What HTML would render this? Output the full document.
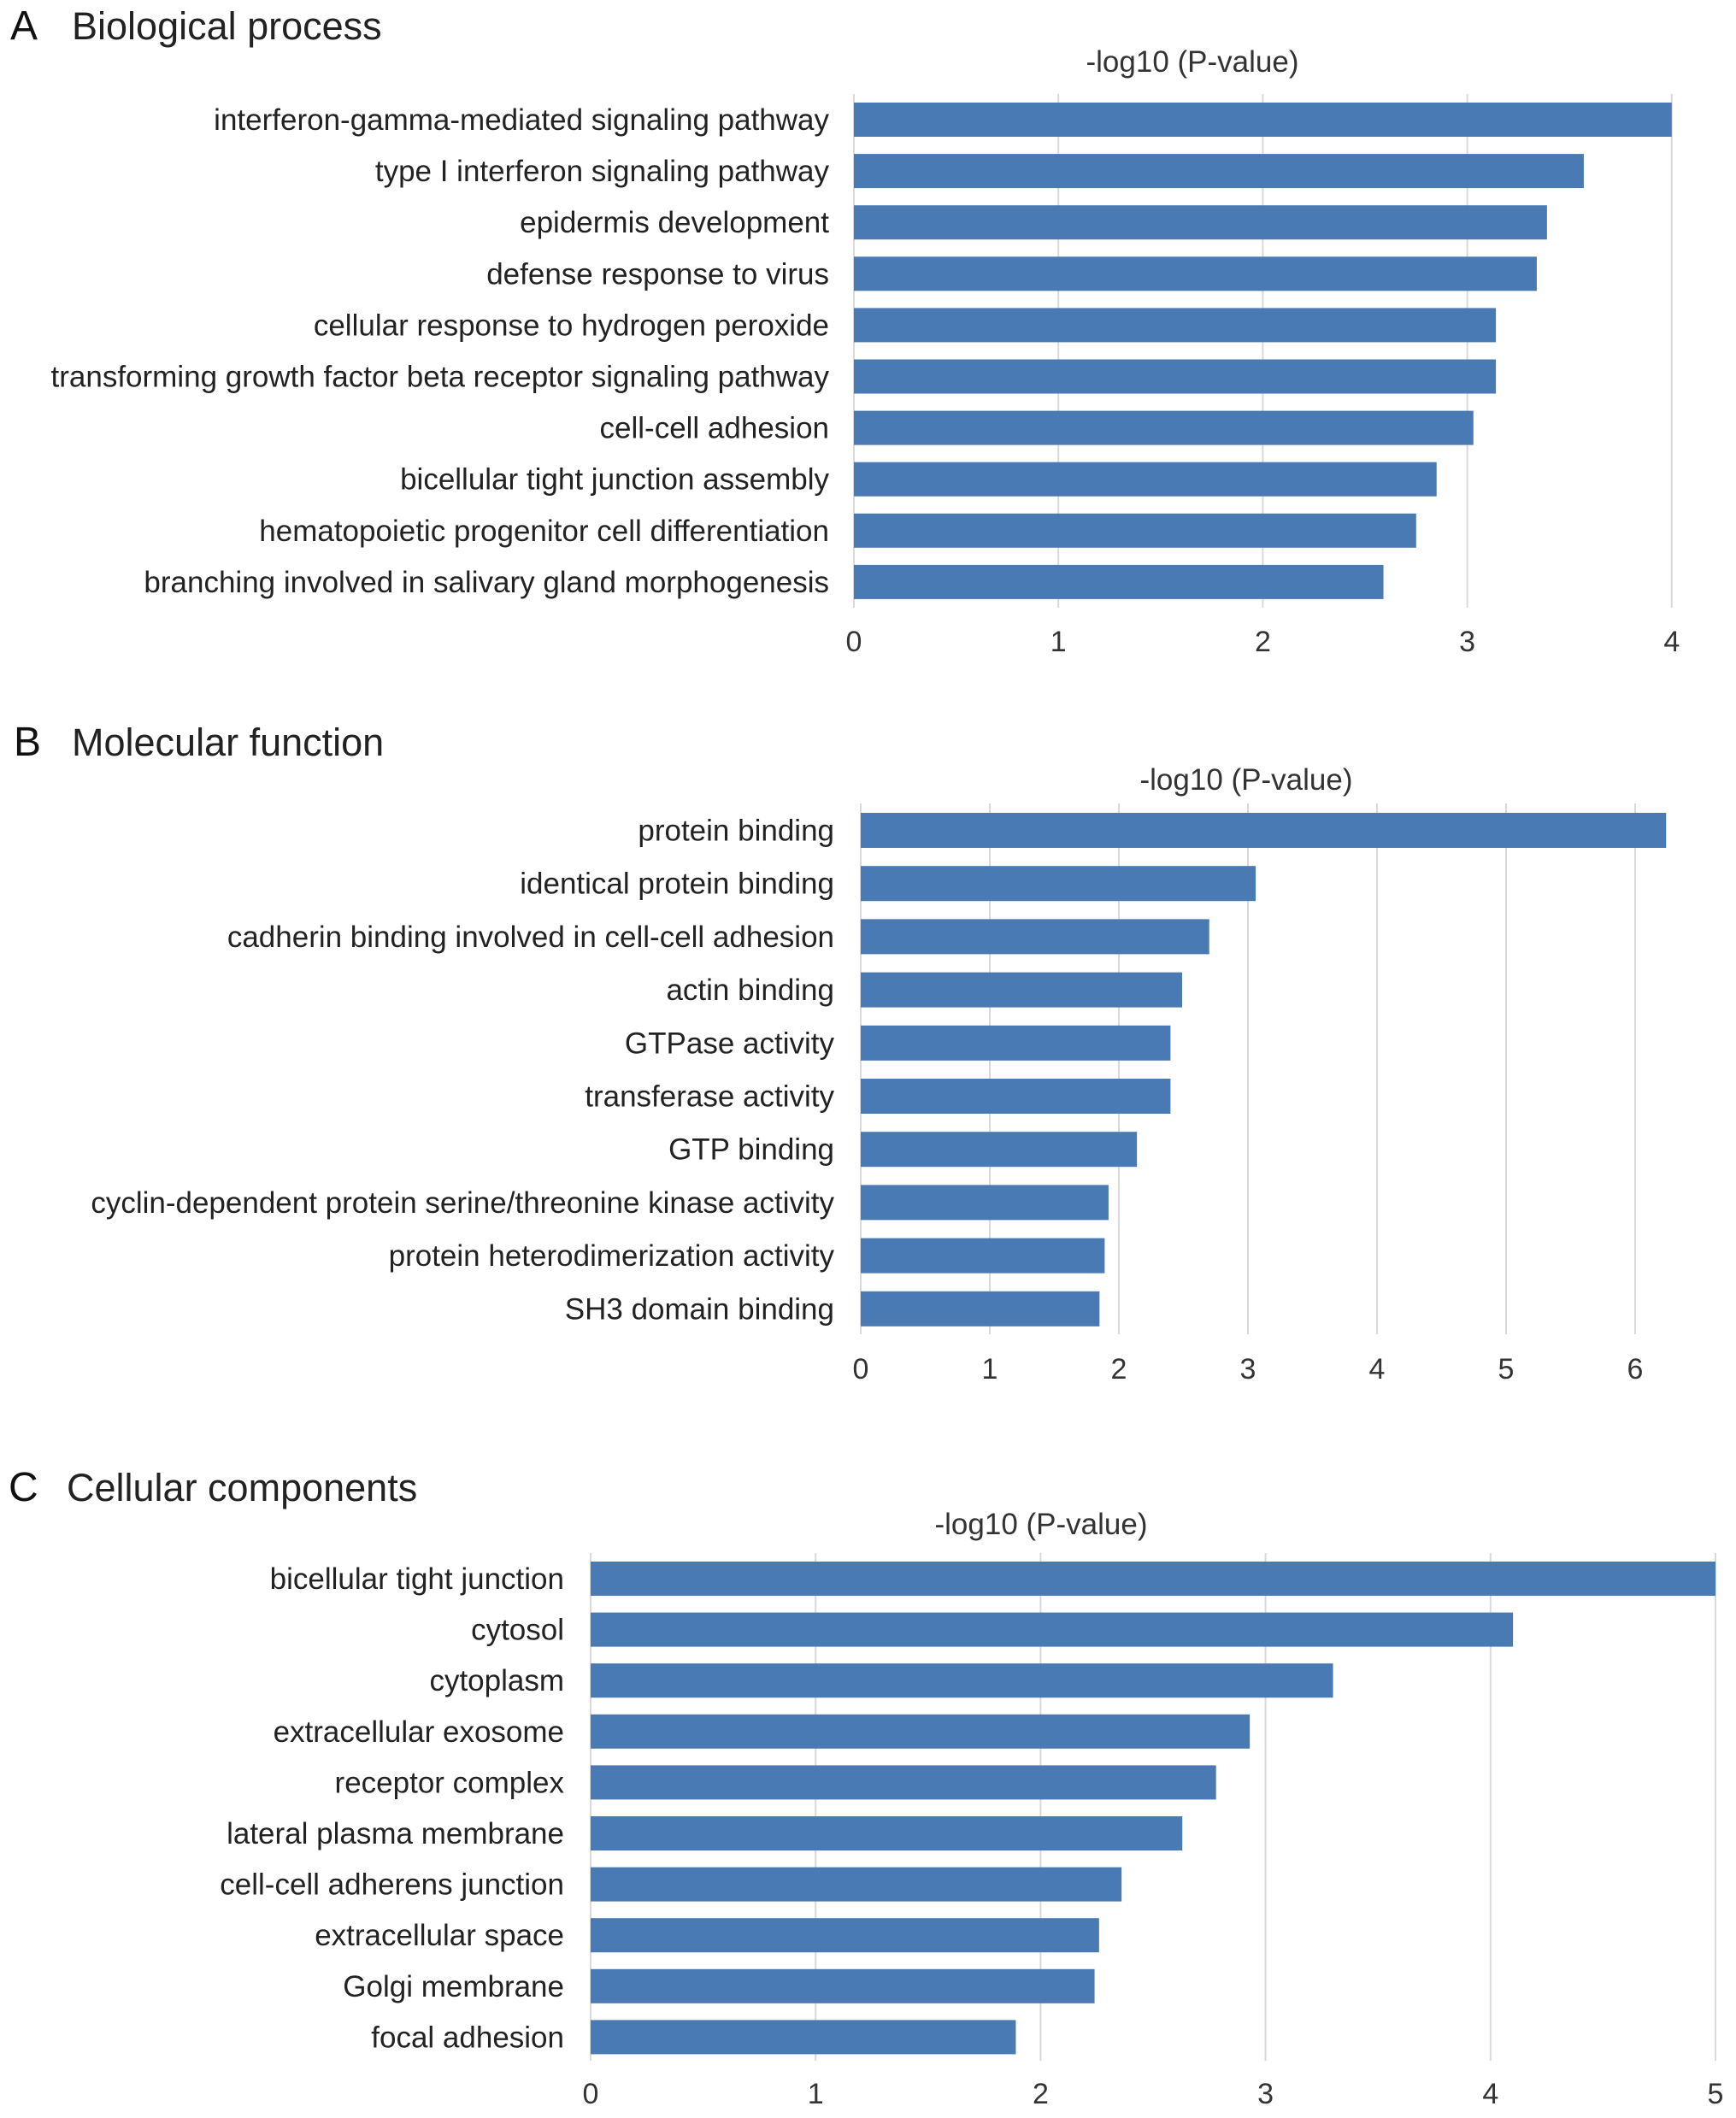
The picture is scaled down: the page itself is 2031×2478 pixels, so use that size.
<!DOCTYPE html>
<html><head><meta charset="utf-8"><style>
html,body{margin:0;padding:0;background:#fff;}
svg{display:block;font-family:"Liberation Sans",Arial,sans-serif;}
</style></head><body>
<svg id="fig" width="2031" height="2478" viewBox="0 0 2031 2478" xmlns="http://www.w3.org/2000/svg"></svg>
<script>
const bpCategories=["interferon-gamma-mediated signaling pathway","type I interferon signaling pathway","epidermis development","defense response to virus","cellular response to hydrogen peroxide","transforming growth factor beta receptor signaling pathway","cell-cell adhesion","bicellular tight junction assembly","hematopoietic progenitor cell differentiation","branching involved in salivary gland morphogenesis"];
const bpValues=[4.0,3.57,3.39,3.34,3.14,3.14,3.03,2.85,2.75,2.59];
const bpTicks=[0,1,2,3,4];
const mfCategories=["protein binding","identical protein binding","cadherin binding involved in cell-cell adhesion","actin binding","GTPase activity","transferase activity","GTP binding","cyclin-dependent protein serine/threonine kinase activity","protein heterodimerization activity","SH3 domain binding"];
const mfValues=[6.24,3.06,2.70,2.49,2.40,2.40,2.14,1.92,1.89,1.85];
const mfTicks=[0,1,2,3,4,5,6];
const ccCategories=["bicellular tight junction","cytosol","cytoplasm","extracellular exosome","receptor complex","lateral plasma membrane","cell-cell adherens junction","extracellular space","Golgi membrane","focal adhesion"];
const ccValues=[5.0,4.10,3.30,2.93,2.78,2.63,2.36,2.26,2.24,1.89];
const ccTicks=[0,1,2,3,4,5];

const svg=document.getElementById('fig');
const NS='http://www.w3.org/2000/svg';
function mk(tag,attrs,parent){const e=document.createElementNS(NS,tag);for(const k in attrs)e.setAttribute(k,attrs[k]);(parent||svg).appendChild(e);return e;}

function panel(cfg,cats,vals,ticks){
  const g=mk('g',{});
  
  
  const x=v=>cfg.x0+v*cfg.unit;
  const y=i=>cfg.yTop+i*cfg.step;
  const L=mk('text',{x:cfg.letterX,y:cfg.titleY,'font-size':48,fill:'#111'},g);L.textContent=cfg.letter;
  
  
  const T=mk('text',{x:cfg.titleX,y:cfg.titleY,'font-size':45,fill:'#222'},g);T.textContent=cfg.title;
  
  
  const A=mk('text',{x:cfg.axX,y:cfg.axY,'font-size':35,fill:'#333','text-anchor':'middle'},g);A.textContent='-log10 (P-value)';
  
  
  ticks.forEach(t=>{
    const ln=mk('line',{x1:x(t),x2:x(t),y1:cfg.gTop,y2:cfg.gBot,stroke:'#d9d9d9','stroke-width':2},g);
    
    
    const tl=mk('text',{x:x(t),y:cfg.tickY,'font-size':34,fill:'#333','text-anchor':'middle'},g);tl.textContent=t;
    
    
  });
  cats.forEach((c,i)=>{
    const r=mk('rect',{x:x(0),y:y(i),width:x(vals[i])-x(0),height:cfg.bh,fill:'#4a7ab3'},g);
    
    
    const tx=mk('text',{x:cfg.labelX,y:y(i)+cfg.bh/2+12,'font-size':35,fill:'#222','text-anchor':'end'},g);tx.textContent=c;
    
    
  });
}
panel({id:'bp',letter:'A',title:'Biological process',letterX:12,titleX:84,titleY:46,axX:1395,axY:84,x0:999,unit:239.2,yTop:120,step:60.1,bh:40,gTop:110,gBot:711,tickY:762,labelX:970},bpCategories,bpValues,bpTicks);
panel({id:'mf',letter:'B',title:'Molecular function',letterX:16,titleX:84,titleY:884,axX:1458,axY:924,x0:1007,unit:151,yTop:951,step:62.2,bh:41,gTop:940,gBot:1561,tickY:1613,labelX:976},mfCategories,mfValues,mfTicks);
panel({id:'cc',letter:'C',title:'Cellular components',letterX:10,titleX:78,titleY:1756,axX:1218,axY:1795,x0:691,unit:263.2,yTop:1827,step:59.6,bh:40,gTop:1817,gBot:2411,tickY:2461,labelX:660},ccCategories,ccValues,ccTicks);
</script>
</body></html>
